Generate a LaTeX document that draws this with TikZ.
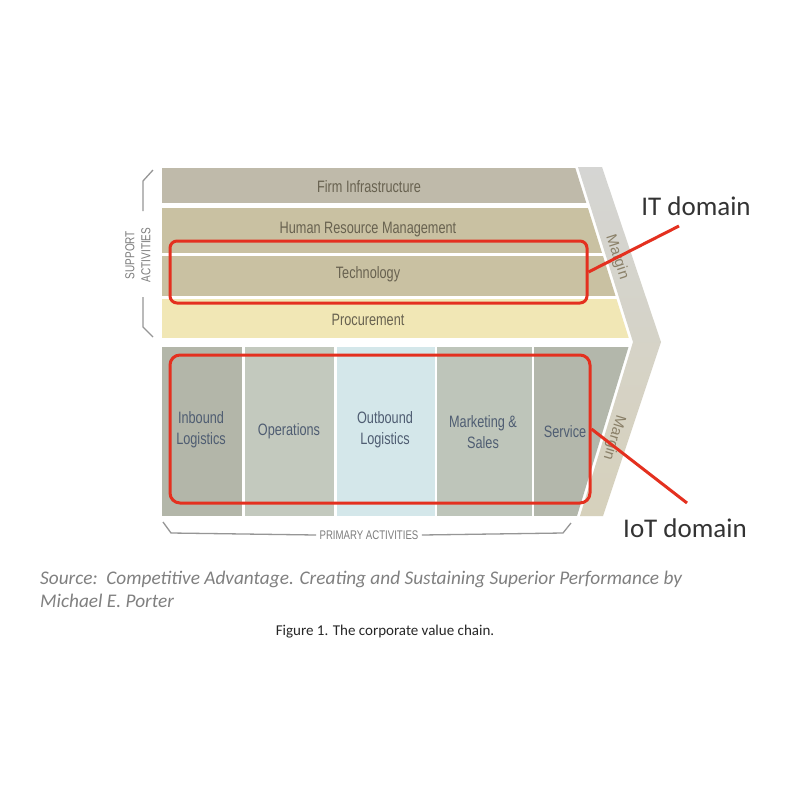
\documentclass[tikz,border=0pt]{standalone}
\usepackage{fontspec}
\setmainfont{Carlito}
\newfontfamily\narrowsans[FakeStretch=0.77]{Liberation Sans}
\newfontfamily\plainsans{Liberation Sans}
\usetikzlibrary{positioning}
\definecolor{cfirm}{HTML}{BFBAAA}
\definecolor{chrm}{HTML}{C9C1A2}
\definecolor{cproc}{HTML}{F1E7B5}
\definecolor{cinb}{HTML}{B3B6A9}
\definecolor{cops}{HTML}{C3C9BE}
\definecolor{cout}{HTML}{D4E7EA}
\definecolor{cmkt}{HTML}{BEC5BA}
\definecolor{csrv}{HTML}{B3B7AB}
\definecolor{cred}{HTML}{E4301F}
\definecolor{csupp}{HTML}{686250}
\definecolor{cprim}{HTML}{4F5D72}
\definecolor{cgrey}{HTML}{7C7C7C}
\definecolor{cmargin}{HTML}{8A8068}
\definecolor{cmtop}{HTML}{D5D5D3}
\definecolor{cmmid}{HTML}{EDE3AC}
\definecolor{cmbot}{HTML}{D6D1BC}
\tikzset{
  supportlabel/.style={font=\narrowsans\fontsize{16.5}{20}\selectfont, text=csupp, anchor=base, inner sep=0pt},
  primlabel/.style={font=\narrowsans\fontsize{16.5}{21}\selectfont, text=cprim, align=center},
  marginlabel/.style={font=\plainsans\fontsize{15}{18}\selectfont, text=cmargin},
  redbox/.style={draw=cred, line width=3pt, rounded corners=#1, inner sep=0pt},
  redbox/.default=8pt,
  callout/.style={draw=cred, line width=3pt},
  domainlabel/.style={font=\fontsize{27}{32}\selectfont, text=black!80, anchor=base},
  brace/.style={draw=cgrey!80, line width=1.3pt},
  capsnote/.style={font=\narrowsans\fontsize{12.5}{15}\selectfont, text=cgrey},
}
\begin{document}
\begin{tikzpicture}[x=1pt, y=-1pt]
  \useasboundingbox[fill=white] (0,0) rectangle (788,788);

  % margin chevron
  \shade[top color=cmtop, middle color=cmmid, bottom color=cmbot]
    (578,167) -- (602,167) -- (661,342) -- (603,516) -- (580,516) -- (633,342) -- cycle;

  % bars, clipped to the chain outline
  \begin{scope}
    \clip (162,167) -- (575,167) -- (630,342) -- (577,516) -- (162,516) -- cycle;
    \fill[cfirm] (162,168) rectangle (700,203);
    \fill[chrm] (162,208) rectangle (700,253);
    \fill[chrm] (162,256) rectangle (700,296);
    \fill[cproc] (162,299) rectangle (700,338);
    \fill[cinb] (162,347) rectangle (242,516);
    \fill[cops] (245,347) rectangle (334,516);
    \fill[cout] (337,347) rectangle (435,516);
    \fill[cmkt] (437,347) rectangle (532,516);
    \fill[csrv] (534,347) rectangle (700,516);
  \end{scope}

  \node[supportlabel] (firm) at (369,192) {Firm Infrastructure};
  \node[supportlabel] (hrm) at (368,233) {Human Resource Management};
  \node[supportlabel] (tech) at (368,278) {Technology};
  \node[supportlabel] (proc) at (368,325) {Procurement};

  \node[primlabel] (inb) at (201,430) {Inbound\\Logistics};
  \node[primlabel] (ops) at (289,431) {Operations};
  \node[primlabel] (outb) at (385,430) {Outbound\\Logistics};
  \node[primlabel] (mkt) at (483,432) {Marketing \&\\Sales};
  \node[primlabel] (srv) at (565,432) {Service};

  \node[marginlabel, rotate=-72] (mtop) at (617,257) {Margin};
  \node[marginlabel, rotate=-107] (mbot) at (614,438) {Margin};

  % brackets
  \node[capsnote, rotate=90, align=center, font=\narrowsans\fontsize{13}{16}\selectfont] (supp) at (138,255) {SUPPORT\\ACTIVITIES};
  \draw[brace] (153,170) -- (143,181) -- (143,211);
  \draw[brace] (143,297) -- (143,327) -- (153,337);
  \node[capsnote] (prim) at (369,535) {PRIMARY ACTIVITIES};
  \draw[brace] (163,522) -- (171,533) -- (prim.west);
  \draw[brace] (prim.east) -- (563,533) -- (571,523);

  % red callouts
  \node[redbox=7pt, minimum width=417pt, minimum height=62pt] (itbox) at (378.5,272) {};
  \node[redbox=10pt, minimum width=420pt, minimum height=148pt] (iotbox) at (380,429) {};
  \node[domainlabel] (itdom) at (696,215) {IT domain};
  \node[domainlabel] (iotdom) at (685,537) {IoT domain};
  \coordinate (itend) at (679,226);
  \coordinate (iotend) at (687,503);
  \draw[callout] (itbox.east) -- (itend);
  \draw[callout] (iotbox.east) -- (iotend);

  % source and caption
  \node[anchor=north west, inner sep=0pt, align=left, text=black!50,
    font=\itshape\fontsize{19.3}{23}\selectfont] (src) at (40,571)
    {Source:\ \ Competitive Advantage. Creating and Sustaining Superior Performance by\\Michael E. Porter};
  \node[font=\fontsize{15}{18}\selectfont, text=black!85] (cap) at (385,632) {Figure 1. The corporate value chain.};
\end{tikzpicture}
\end{document}
